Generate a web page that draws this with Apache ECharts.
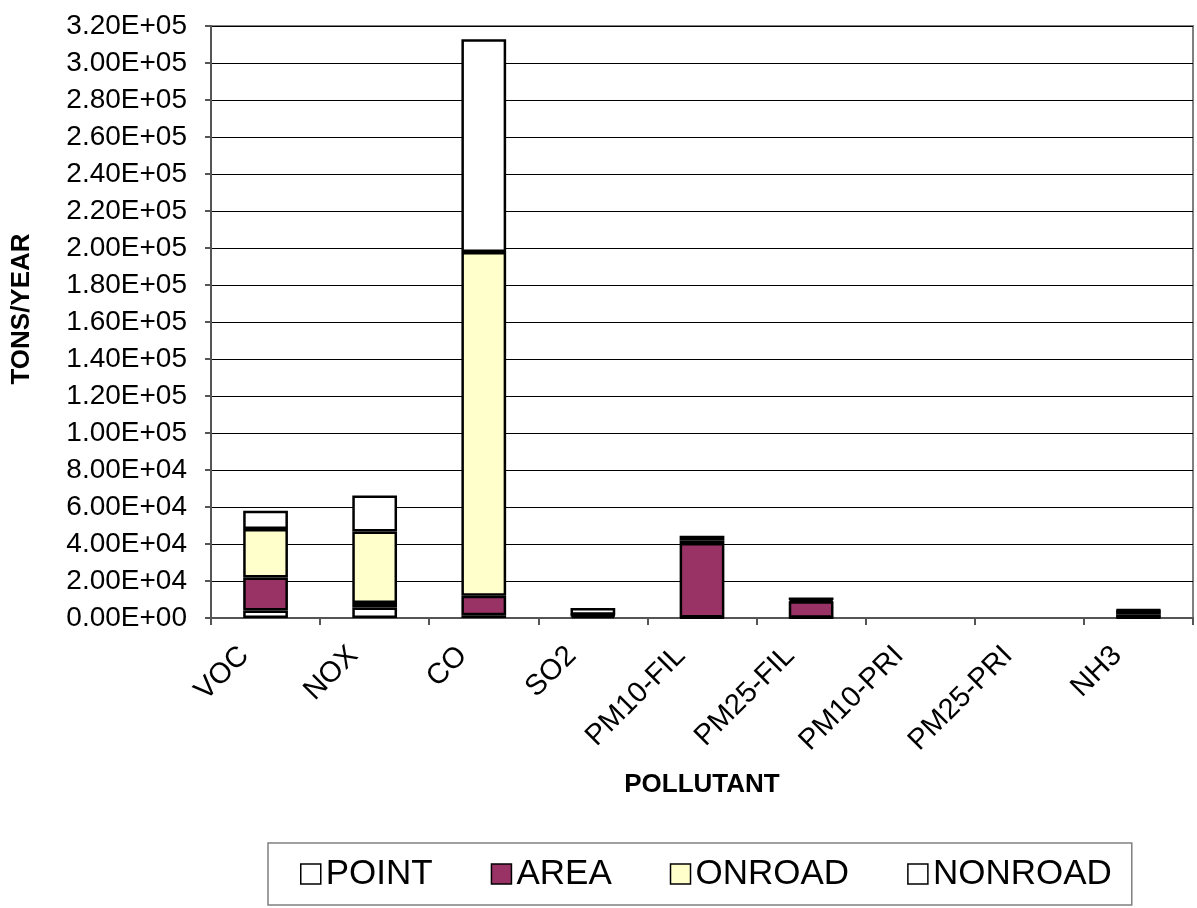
<!DOCTYPE html>
<html>
<head>
<meta charset="utf-8">
<title>Emissions by pollutant</title>
<script src="https://cdn.jsdelivr.net/npm/echarts@6/dist/echarts.min.js"></script>
<style>
  html, body { margin: 0; padding: 0; background: #fff; }
  #chart { width: 1197px; height: 908px; }
</style>
</head>
<body>
<div id="chart"></div>
<script>
  // values (tons/year)
  const pollutants = ['VOC', 'NOX', 'CO', 'SO2', 'PM10-FIL', 'PM25-FIL', 'PM10-PRI', 'PM25-PRI', 'NH3']
  const pointData = [4100, 5700, 1500, 1200, 300, 200, 0, 0, 300]
  const areaData = [17800, 2400, 10500, 300, 40200, 8800, 0, 0, 1500]
  const onroadData = [26200, 38700, 185800, 200, 1500, 700, 0, 0, 2400]
  const nonroadData = [9900, 19400, 115000, 3700, 2500, 1400, 0, 0, 300]
  const seriesNames = ['POINT', 'AREA', 'ONROAD', 'NONROAD']
  const seriesColors = ['#ffffff', '#993366', '#ffffcc', '#ffffff']

  const font = "'Liberation Sans', Arial, sans-serif"

  function sci(v) {
    // 3.20E+05 style labels
    if (v === 0) return '0.00E+00'
    const parts = v.toExponential(2).toUpperCase().split('E')
    const sign = parts[1][0]
    let exp = parts[1].slice(1)
    if (exp.length < 2) exp = '0' + exp
    return parts[0] + 'E' + sign + exp
  }

  const chart = echarts.init(document.getElementById('chart'))

  const allData = [pointData, areaData, onroadData, nonroadData]
  const series = seriesNames.map(function (name, i) {
    return {
      name: name,
      type: 'bar',
      stack: 'total',
      barWidth: '41%',
      itemStyle: {
        color: seriesColors[i],
        borderColor: '#000',
        borderWidth: 2.5
      },
      // zero values are not drawn at all
      data: allData[i].map(function (v) { return v === 0 ? null : v })
    }
  })

  chart.setOption({
    animation: false,
    backgroundColor: '#fff',
    textStyle: { fontFamily: font },
    grid: {
      left: 211,
      right: 4,
      top: 26,
      bottom: 290,
      show: true,
      borderColor: '#808080',
      borderWidth: 2,
      outerBoundsMode: 'none'
    },
    legend: {
      left: 268,
      top: 843,
      padding: [12, 20, 12, 32],
      itemGap: 58,
      itemWidth: 20,
      itemHeight: 20,
      itemStyle: { borderColor: '#000', borderWidth: 1.5 },
      borderColor: '#808080',
      borderWidth: 1.5,
      icon: 'rect',
      textStyle: {
        fontFamily: font,
        fontSize: 35,
        color: '#000',
        lineHeight: 38
      },
      data: seriesNames
    },
    xAxis: {
      type: 'category',
      data: pollutants,
      name: 'POLLUTANT',
      nameLocation: 'middle',
      nameGap: 154,
      nameTextStyle: { fontFamily: font, fontSize: 26, fontWeight: 'bold', color: '#000' },
      axisLine: { lineStyle: { color: '#555', width: 2 } },
      axisTick: { show: true, length: 7, lineStyle: { color: '#555', width: 2 } },
      axisLabel: {
        rotate: 45,
        interval: 0,
        margin: 12,
        padding: [0, 30, 0, 0],
        fontFamily: font,
        fontSize: 29,
        color: '#000'
      }
    },
    yAxis: {
      type: 'value',
      min: 0,
      max: 320000,
      interval: 20000,
      name: 'TONS/YEAR',
      nameLocation: 'middle',
      nameRotate: 90,
      nameGap: 176,
      nameTextStyle: {
        fontFamily: font,
        fontSize: 26,
        fontWeight: 'bold',
        color: '#000',
        padding: [0, 0, 0, 26]
      },
      axisLine: { show: true, lineStyle: { color: '#555', width: 2 } },
      axisTick: { show: true, length: 6, lineStyle: { color: '#555', width: 2 } },
      axisLabel: {
        margin: 24,
        fontFamily: font,
        fontSize: 28,
        color: '#000',
        formatter: sci
      },
      splitLine: { show: true, lineStyle: { color: '#000', width: 1 } }
    },
    series: series
  })
</script>
</body>
</html>
